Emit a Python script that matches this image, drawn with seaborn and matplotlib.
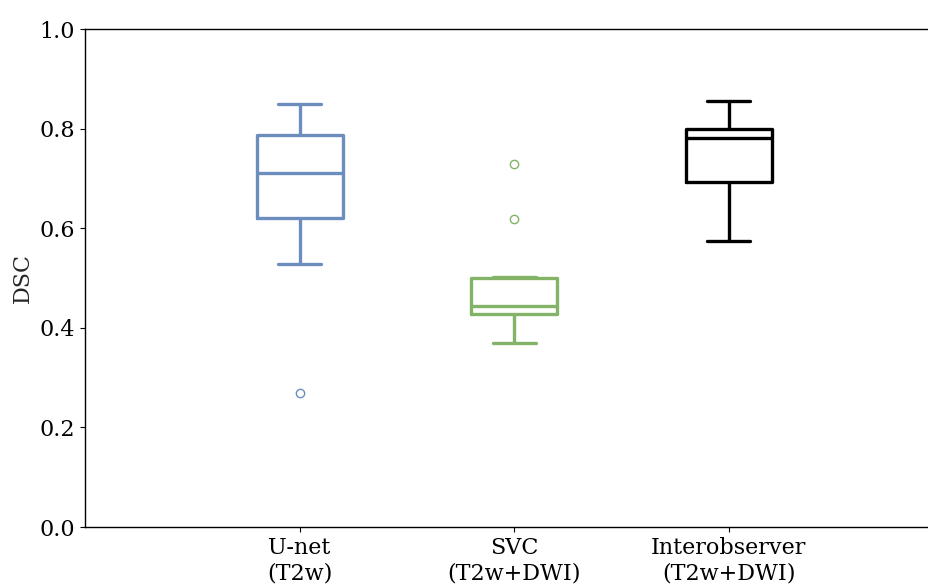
import matplotlib
matplotlib.use("Agg")
import matplotlib.pyplot as plt
import seaborn as sns
import pandas as pd

methods = ["U-net\n(T2w)", "SVC\n(T2w+DWI)", "Interobserver\n(T2w+DWI)"]
unet_dsc = [0.270, 0.528, 0.621, 0.660, 0.711, 0.750, 0.788, 0.820, 0.849]
svc_dsc = [0.369, 0.390, 0.410, 0.427, 0.430, 0.440, 0.444, 0.460, 0.480,
           0.499, 0.502, 0.619, 0.728]
inter_dsc = [0.575, 0.650, 0.692, 0.740, 0.782, 0.790, 0.799, 0.830, 0.855]
colors = ["#6c8ebf", "#82b366", "#000000"]

rows = []
for m, vals in zip(methods, [unet_dsc, svc_dsc, inter_dsc]):
    for v in vals:
        rows.append({"method": m, "DSC": v})
df = pd.DataFrame(rows)

sns.set_style("ticks")
plt.rcParams["font.family"] = ["DejaVu Serif"]

fig = plt.figure(figsize=(9.29, 5.84), dpi=100)
ax = fig.add_axes([85 / 929, 57 / 584, (943.5 - 85) / 929, 498 / 584])

sns.boxplot(data=df, x="method", y="DSC", hue="method", order=methods,
            hue_order=methods, palette=colors, fill=False, width=0.4,
            linewidth=2.4, legend=False, ax=ax,
            flierprops={"marker": "o", "markersize": 6,
                        "markerfacecolor": "none", "markeredgewidth": 1.0})

ax.set_xlim(-1, 3)
ax.set_ylim(0, 1.0)
ax.set_yticks([0.0, 0.2, 0.4, 0.6, 0.8, 1.0])
ax.set_xlabel("")
ax.set_ylabel("DSC", fontsize=16)
ax.tick_params(axis="both", labelsize=16, colors="black")
for s in ax.spines.values():
    s.set_color("black")
    s.set_linewidth(1.0)

fig.savefig("out.png", dpi=100)
